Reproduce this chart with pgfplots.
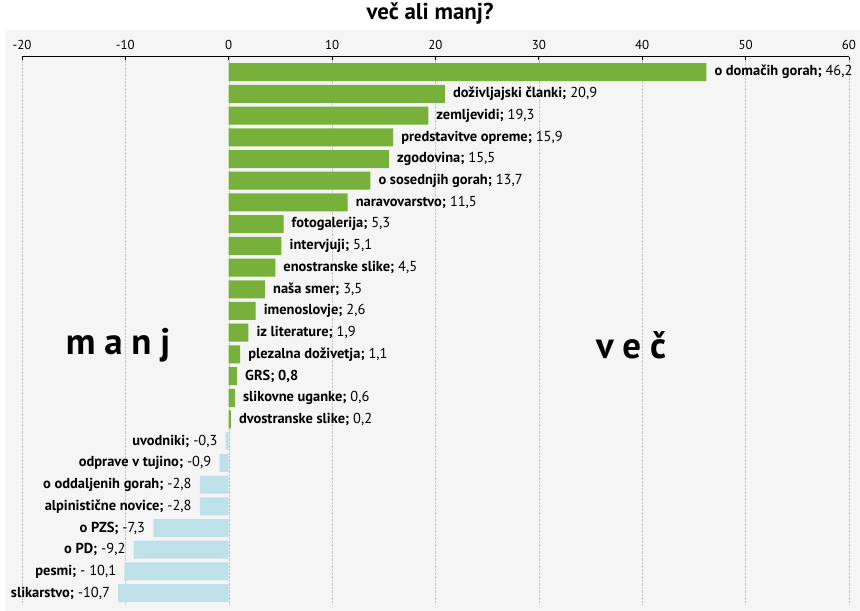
\documentclass[border=0pt]{standalone}
\usepackage{fontspec}
\setmainfont{PT Sans}
\usepackage{pgfplots}
\pgfplotsset{compat=1.18}
\definecolor{barg}{RGB}{119,176,58}
\definecolor{barb}{RGB}{190,224,232}
\definecolor{panel}{RGB}{245,245,245}
\begin{document}
\begin{tikzpicture}
\fill[white] (-22bp,-7bp) rectangle (838bp,604bp);
\useasboundingbox (-22bp,-7bp) rectangle (838bp,604bp);
\fill[panel] (-17bp,-7bp) rectangle (838bp,574bp);
\begin{axis}[
 at={(0,0)}, anchor=south west,
 scale only axis, width=827bp, height=547bp,
 xmin=-20, xmax=60, ymin=-24.5, ymax=0.7,
 axis x line*=top, axis y line=none,
 xtick={-20,-10,...,60}, ytick=\empty,
 xmajorgrids, grid style={gray!45, densely dotted},
 major tick length=3bp, tick align=inside,
 tick style={black, line width=0.8pt},
 axis line style={black, line width=1pt},
 x tick label style={font=\fontsize{13}{15}\selectfont, yshift=4bp},
 /pgf/number format/assume math mode=true,
 xbar, bar width=18bp, bar shift=0pt,
 point meta=explicit symbolic,
 clip=false,
]
\addplot[fill=barg, draw=none, nodes near coords,
  every node near coord/.append style={anchor=west, inner sep=0pt, xshift=8bp, font=\fontsize{14.5}{16}\selectfont, text=black}]
coordinates {
(46.2,0) [{\textbf{o domačih gorah;} 46,2}]
(20.9,-1) [{\textbf{doživljajski članki;} 20,9}]
(19.3,-2) [{\textbf{zemljevidi;} 19,3}]
(15.9,-3) [{\textbf{predstavitve opreme;} 15,9}]
(15.5,-4) [{\textbf{zgodovina;} 15,5}]
(13.7,-5) [{\textbf{o sosednjih gorah;} 13,7}]
(11.5,-6) [{\textbf{naravovarstvo;} 11,5}]
(5.3,-7) [{\textbf{fotogalerija;} 5,3}]
(5.1,-8) [{\textbf{intervjuji;} 5,1}]
(4.5,-9) [{\textbf{enostranske slike;} 4,5}]
(3.5,-10) [{\textbf{naša smer;} 3,5}]
(2.6,-11) [{\textbf{imenoslovje;} 2,6}]
(1.9,-12) [{\textbf{iz literature;} 1,9}]
(1.1,-13) [{\textbf{plezalna doživetja;} 1,1}]
(0.8,-14) [{\textbf{GRS; 0,8}}]
(0.6,-15) [{\textbf{slikovne uganke;} 0,6}]
(0.2,-16) [{\textbf{dvostranske slike;} 0,2}]
};
\addplot[fill=barb, draw=none, nodes near coords,
  every node near coord/.append style={anchor=east, inner sep=0pt, xshift=-8bp, font=\fontsize{14.5}{16}\selectfont, text=black}]
coordinates {
(-0.3,-17) [{\textbf{uvodniki;} -0,3}]
(-0.9,-18) [{\textbf{odprave v tujino;} -0,9}]
(-2.8,-19) [{\textbf{o oddaljenih gorah;} -2,8}]
(-2.8,-20) [{\textbf{alpinistične novice;} -2,8}]
(-7.3,-21) [{\textbf{o PZS;} -7,3}]
(-9.2,-22) [{\textbf{o PD;} -9,2}]
(-10.1,-23) [{\textbf{pesmi;} - 10,1}]
(-10.7,-24) [{\textbf{slikarstvo;} -10,7}]
};
\end{axis}
\node[font=\bfseries\fontsize{37}{42}\selectfont] at (96bp,259bp) {m\hspace{0.24em}a\hspace{0.24em}n\hspace{0.24em}j};
\node[font=\bfseries\fontsize{37}{42}\selectfont] at (609bp,259bp) {v\hspace{0.24em}e\hspace{0.24em}č};
\node[font=\bfseries\fontsize{23}{27}\selectfont] at (408bp,590bp) {več ali manj?};
\end{tikzpicture}
\end{document}
